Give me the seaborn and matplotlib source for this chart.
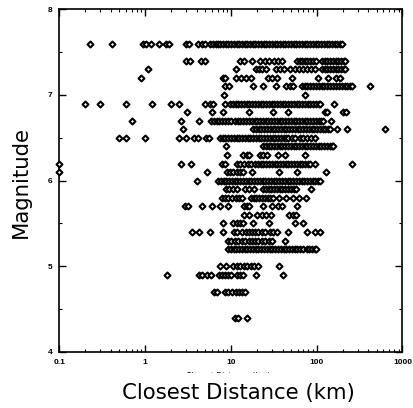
import matplotlib
matplotlib.use("Agg")
import matplotlib.pyplot as plt
import matplotlib.ticker as mticker
from matplotlib.transforms import Bbox, TransformedBbox
import pandas as pd
import seaborn as sns

# Closest distance (km) of each record, grouped by moment magnitude
m76 = [0.227, 0.415, 0.94, 1.02, 1.17, 1.45, 1.75, 1.89, 2.95, 3.24, 4.12, 4.53, 4.97, 5.69,
       6.2, 6.6, 7.1, 7.5, 8.0, 8.7, 9.3, 10.0, 10.8, 11.6, 12.4, 13.3, 14.4, 15.5, 16.6, 17.9,
       19.2, 20.7, 22.3, 24.0, 25.8, 27.8, 29.9, 32.2, 34.6, 37.3, 40.1, 43.2, 46.5, 50.0, 53.8,
       57.9, 62.3, 67.1, 72.2, 77.7, 83.6, 90.0, 96.9, 104, 112, 121, 130, 140, 150, 162, 174,
       187, 198]
m74 = [2.99, 3.37, 4.47, 4.97, 12.7, 14.0, 17.6, 21.8, 24.9, 27.7, 31.7, 35.3, 39.3, 59, 63,
       68, 73, 78, 84, 90, 97, 115, 124, 133, 143, 154, 166, 178, 192, 206, 214]
m73 = [1.08, 11.4, 19.6, 21.2, 23.0, 25.6, 33.5, 37.3, 41.5, 48.8, 55.8, 62.1, 69.1, 76.9,
       85.7, 95.4, 115, 124, 133, 143, 154, 166, 178, 192, 206, 214]
m72 = [0.885, 8.07, 8.51, 11.4, 13.1, 15.0, 17.1, 27.0, 30.1, 34.4, 51.4, 103, 135, 168, 187]
m71 = [8.40, 9.48, 18.1, 23.6, 33.5, 43.8, 48.8, 52.8, 67, 72, 78, 84, 91, 98, 106, 114, 123,
       133, 144, 155, 168, 181, 195, 211, 228, 246, 258, 418]
m70 = [8.29, 72.9]
m69 = [0.198, 0.297, 0.596, 1.19, 2.0, 2.48, 4.97, 5.69, 6.17, 8.51, 9.7, 10.5, 11.3, 12.2,
       13.1, 14.1, 15.2, 16.4, 17.6, 19.0, 20.5, 22.1, 23.8, 25.6, 27.6, 29.7, 32.0, 34.5, 37.2,
       40.0, 43.1, 46.5, 50.1, 54.0, 58.1, 62.6, 67.5, 72.7, 78.3, 84.4, 90.9, 98.0, 105, 109,
       159]
m68 = [3.03, 6.05, 8.0, 16.2, 30.6, 46.6, 125, 132, 202, 219]
m67 = [0.695, 2.61, 4.27, 5.8, 6.3, 6.8, 7.3, 7.9, 8.5, 9.2, 9.9, 11.1, 12.0, 12.9, 13.9, 15.0,
       16.2, 17.4, 18.8, 20.2, 21.8, 23.5, 25.3, 27.3, 29.4, 31.7, 34.2, 36.8, 39.7, 42.8, 46.1,
       49.7, 53.6, 57.8, 62.3, 67.1, 72.3, 77.9, 84.0, 90.5, 97.6, 105, 113, 118, 147]
m66 = [2.78, 18.1, 19.5, 21.0, 22.6, 24.4, 26.3, 28.3, 30.5, 32.9, 35.4, 38.2, 41.1, 44.3,
       47.8, 51.5, 55.5, 59.8, 64.4, 69.4, 74.8, 80.6, 86.9, 93.6, 101, 109, 117, 126, 136, 143,
       172, 225, 625]
m65 = [0.494, 0.596, 0.99, 2.50, 2.99, 3.73, 4.16, 5.11, 5.47, 7.4, 8.0, 8.6, 9.3, 10.0, 10.8,
       11.6, 12.5, 13.5, 14.5, 15.6, 16.8, 18.1, 19.5, 21.0, 22.6, 24.4, 26.3, 28.3, 30.5, 32.9,
       35.4, 38.2, 41.1, 44.3, 46.2, 51.4, 55.8, 63.8, 69.1, 76.9, 85.7, 95.4]
m64 = [8.63, 23.6, 25.4, 27.4, 29.5, 31.8, 34.3, 36.9, 39.8, 42.9, 46.2, 49.8, 53.6, 57.8,
       62.3, 67.1, 72.3, 77.9, 84.0, 90.5, 97.5, 105, 113, 122, 131, 141, 150, 155]
m63 = [9.10, 13.8, 15.2, 16.4, 21.8, 23.9, 26.3, 35.6, 43.2, 72.9]
m62 = [0.1, 2.59, 3.39, 7.75, 8.51, 11.6, 12.7, 14.2, 15.8, 17.1, 18.9, 20.6, 22.2, 23.9, 25.7,
       27.7, 29.9, 32.2, 34.7, 37.4, 40.3, 43.4, 46.8, 50.4, 54.3, 58.5, 63.1, 68.0, 73.3, 79.0,
       83.4, 95.4, 256]
m61 = [0.1, 5.29, 8.98, 9.73, 10.5, 11.6, 12.7, 13.8, 17.6, 36.3, 58.4, 128]
m60 = [4.05, 7.05, 7.6, 8.2, 8.8, 9.5, 10.2, 11.0, 11.9, 12.8, 13.8, 14.9, 16.0, 17.3, 18.6,
       20.1, 21.6, 23.3, 25.1, 27.1, 29.2, 31.4, 33.9, 36.5, 39.3, 42.4, 45.7, 49.2, 53.0, 57.1,
       61.6, 66.4, 71.5, 77.1, 83.1, 89.5, 96.5, 104, 109]
m59 = [8.74, 9.48, 10.5, 11.6, 14.6, 16.2, 18.3, 23.6, 25.4, 27.4, 29.5, 31.8, 34.3, 36.9,
       39.8, 42.9, 46.2, 49.8, 53.6, 57.3, 85.7]
m58 = [7.86, 8.51, 9.35, 10.3, 11.3, 12.4, 13.6, 17.1, 18.4, 19.8, 21.4, 23.0, 24.8, 26.8,
       28.8, 30.9, 36.6, 43.8, 52.4, 62.6, 74.9]
m57 = [2.91, 3.15, 4.53, 5.95, 7.50, 9.30, 14.0, 15.2, 16.4, 23.8, 29.8, 35.3, 39.0, 58.9]
m56 = [14.2, 16.0, 19.9, 23.0, 25.9, 28.9, 47.5, 52.2, 58.0]
m55 = [8.0, 10.6, 11.6, 12.7, 13.9, 17.9, 28.1, 55.8, 69.7]
m54 = [3.54, 4.29, 5.69, 8.0, 10.7, 11.7, 13.4, 14.8, 16.2, 17.6, 19.1, 20.9, 22.7, 24.9, 28.7,
       31.3, 34.4, 46.6, 76.3, 95.4, 109]
m53 = [9.35, 10.1, 11.0, 12.1, 13.3, 14.6, 16.0, 17.6, 19.1, 20.9, 23.0, 24.9, 27.4, 29.7, 43.2]
m52 = [9.2, 9.9, 10.7, 11.5, 12.4, 13.4, 14.4, 15.5, 16.7, 18.0, 19.4, 20.9, 22.5, 24.3, 26.2,
       28.2, 30.4, 32.7, 35.3, 38.0, 41.0, 44.2, 47.6, 51.3, 55.3, 59.6, 64.2, 68.6, 76.5, 82.0,
       88.5, 95.0, 98.0]
m50 = [7.54, 8.86, 10.6, 11.6, 12.7, 14.0, 15.4, 16.9, 18.5, 20.6, 36.6]
m49 = [1.78, 4.27, 4.65, 5.32, 5.77, 7.15, 7.75, 8.40, 9.23, 10.0, 11.6, 12.6, 13.8, 19.6, 40.7]
m47 = [6.33, 6.78, 8.51, 9.30, 10.3, 11.3, 12.4, 13.4, 14.6]
m44 = [11.1, 12.2, 15.2]

magnitudes = [7.6, 7.4, 7.3, 7.2, 7.1, 7.0, 6.9, 6.8, 6.7, 6.6, 6.5, 6.4, 6.3, 6.2, 6.1, 6.0,
              5.9, 5.8, 5.7, 5.6, 5.5, 5.4, 5.3, 5.2, 5.0, 4.9, 4.7, 4.4]
distances = [m76, m74, m73, m72, m71, m70, m69, m68, m67, m66, m65, m64, m63, m62, m61, m60,
             m59, m58, m57, m56, m55, m54, m53, m52, m50, m49, m47, m44]

x_ticks = [0.1, 1, 10, 100, 1000]
x_tick_labels = ["0.1", "1", "10", "100", "1000"]
y_ticks = [4, 5, 6, 7, 8]
y_tick_labels = ["4", "5", "6", "7", "8"]

rows = []
for mag, dists in zip(magnitudes, distances):
    for d in dists:
        rows.append({"distance": d, "magnitude": mag})
df = pd.DataFrame(rows)

sns.set_style("white")
plt.rcParams["font.family"] = ["DejaVu Sans"]

fig = plt.figure(figsize=(4.14, 4.08), dpi=100)
ax = fig.add_axes([59.5 / 414, 1 - 352 / 408, (402.5 - 59.5) / 414, (352 - 9.3) / 408])

sns.scatterplot(data=df, x="distance", y="magnitude", ax=ax, marker="D", s=9,
                color="black", facecolor="white", edgecolor="black", linewidth=1.5,
                clip_on=False, zorder=3)

ax.set_xscale("log")
ax.set_xlim(0.1, 1000)
ax.set_ylim(4, 8)

ax.set_xticks(x_ticks)
ax.xaxis.set_major_formatter(mticker.FixedFormatter(x_tick_labels))
ax.xaxis.set_minor_locator(mticker.LogLocator(base=10, subs=range(2, 10), numticks=20))
ax.xaxis.set_minor_formatter(mticker.NullFormatter())
ax.set_yticks(y_ticks)
ax.set_yticklabels(y_tick_labels)
ax.yaxis.set_minor_locator(mticker.MultipleLocator(0.5))

for side in ["left", "right", "top", "bottom"]:
    ax.spines[side].set_visible(True)
    ax.spines[side].set_color("black")
    ax.spines[side].set_linewidth(1.2)

ax.tick_params(which="both", direction="in", bottom=True, left=True, top=True, right=True,
               colors="black")
ax.tick_params(which="major", length=5, width=1.0, pad=5)
ax.tick_params(which="minor", length=2.5, width=0.8)
for lab in ax.get_xticklabels() + ax.get_yticklabels():
    lab.set_fontfamily("Liberation Sans")
    lab.set_fontweight("bold")
    lab.set_fontsize(6)

ax.set_xlabel("")
ax.set_ylabel("")

# small leftover axis caption, mostly hidden beneath the main caption
small = fig.text(228 / 414, 1 - 376 / 408, "Closest Distance (km)", fontsize=5.5,
                 ha="center", va="center", color="black")
small.set_clip_on(True)
small.set_clip_box(TransformedBbox(Bbox.from_extents(0, 1 - 373 / 408, 1, 1), fig.transFigure))

fig.text(238 / 414, 1 - 399 / 408, "Closest Distance (km)", fontsize=15.3,
         ha="center", va="baseline", color="black")
fig.text(21 / 414, 1 - 182 / 408, "Magnitude", fontsize=15.3, rotation=90,
         ha="center", va="center", color="black")

fig.savefig("out.png", dpi=100, facecolor="white")
